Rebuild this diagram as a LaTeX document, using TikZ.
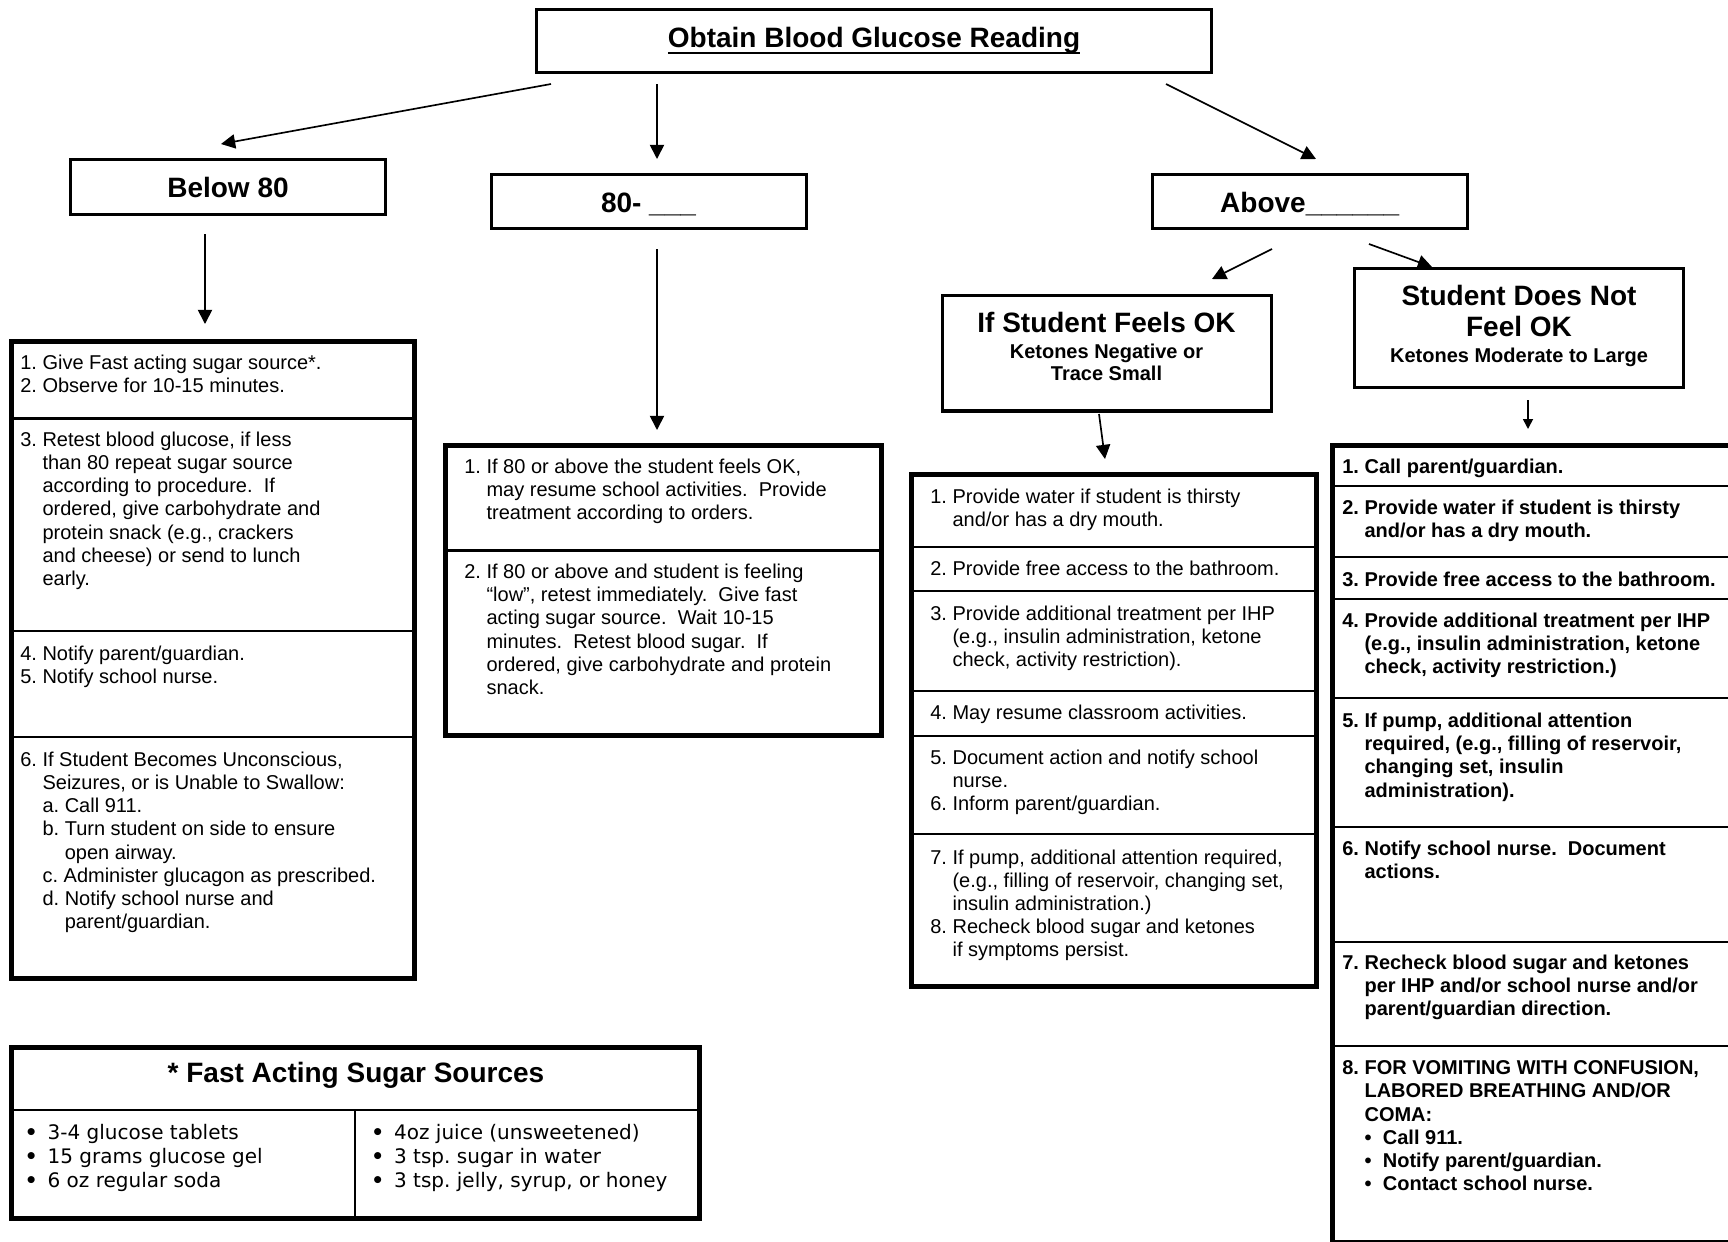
\documentclass[tikz,border=0pt]{standalone}
\usepackage{fontspec}
\setmainfont{Liberation Sans}
\newfontfamily\verd{DejaVu Sans}
\usetikzlibrary{arrows.meta}
\newcommand\ulrule[1]{\setbox0=\hbox{#1}\rlap{\rule[-4.2pt]{\wd0}{1.2pt}}\box0}
\newcommand\indA{\hphantom{1. }}
\newcommand\indB{\hphantom{1. a. }}
\newcommand\blt{\makebox[11pt][l]{•}}
\newcommand\vblt{\makebox[13.7pt][l]{\bfseries •}}
\begin{document}
\frenchspacing
\begin{tikzpicture}[x=0.6pt,y=-0.6pt,
 body/.style={font=\fontsize{12}{13.9}\selectfont, align=left, anchor=north west, inner sep=0pt},
 bodyb/.style={body, font=\fontsize{12}{13.9}\selectfont\bfseries},
 head/.style={font=\fontsize{16.8}{19.3}\selectfont\bfseries, inner sep=0pt, anchor=base},
 subh/.style={font=\fontsize{12}{13.9}\selectfont\bfseries, inner sep=0pt, anchor=base},
 hbox/.style 2 args={draw, line width=1.8pt, minimum width=#1, minimum height=#2, inner sep=0pt},
 sbox/.style={draw, line width=3pt},
 divl/.style={line width=1.3pt},
 arr/.style={line width=1pt, -{Triangle[length=8.5pt,width=8.5pt]}},
 arrs/.style={line width=1pt, -{Triangle[length=6pt,width=6pt]}},
 verdb/.style={font=\verd\fontsize{12}{14.5}\selectfont, align=left, anchor=north west, inner sep=0pt}
]
\useasboundingbox (0,0) rectangle (1728,1241);
\fill[white] (0,0) rectangle (1728,1241);
\clip (0,0) rectangle (1728,1241);

% ---------- header boxes ----------
\node[hbox={405pt}{37.6pt}] (top) at (874,41.2) {};
\node[head] (topT) at (874,47) {\ulrule{Obtain Blood Glucose Reading}};
\node[hbox={188.7pt}{33pt}] (below) at (227.8,187) {};
\node[head] (belowT) at (228,197) {Below 80};
\node[hbox={189pt}{32.4pt}] (mid) at (648.8,201.5) {};
\node[head] (midT) at (648.5,212.5) {80- \_\_\_};
\node[hbox={189pt}{32.4pt}] (above) at (1309.5,201.7) {};
\node[head] (aboveT) at (1309.7,212.5) {Above\_\_\_\_\_\_};

\node[hbox={197.4pt}{69.3pt}, line width=2pt] (feels) at (1107,353.2) {};
\node[head] (feelsT) at (1106.5,332.7) {If Student Feels OK};
\node[subh] (feelsS1) at (1106.5,358.5) {Ketones Negative or};
\node[subh] (feelsS2) at (1106.5,380) {Trace Small};

\node[hbox={197.4pt}{71.6pt}, line width=2pt] (notok) at (1519,327.9) {};
\node[head] (notokT1) at (1519,305) {Student Does Not};
\node[head] (notokT2) at (1519,336.7) {Feel OK};
\node[subh] (notokS) at (1519,362.7) {Ketones Moderate to Large};

% ---------- arrows ----------
\coordinate (a1s) at (551,84);   \coordinate (a1e) at (221,144);
\coordinate (a2s) at (657,84);   \coordinate (a2e) at (657,159);
\coordinate (a3s) at (1166,84);  \coordinate (a3e) at (1316,159);
\coordinate (a4s) at (205,234);  \coordinate (a4e) at (205,324);
\coordinate (a5s) at (657,249);  \coordinate (a5e) at (657,430);
\coordinate (a6s) at (1272,249); \coordinate (a6e) at (1212,279);
\coordinate (a7s) at (1369,244); \coordinate (a7e) at (1432,267);
\coordinate (a8s) at (1099,414); \coordinate (a8e) at (1105,459);
\coordinate (a9s) at (1528,400); \coordinate (a9e) at (1528,429);
\draw[arr] (a1s) -- (a1e);
\draw[arr] (a2s) -- (a2e);
\draw[arr] (a3s) -- (a3e);
\draw[arr] (a4s) -- (a4e);
\draw[arr] (a5s) -- (a5e);
\draw[arr] (a6s) -- (a6e);
\draw[arr] (a7s) -- (a7e);
\draw[arr] (a8s) -- (a8e);
\draw[arrs] (a9s) -- (a9e);

% ---------- left steps box ----------
\draw[sbox] (11.5,341) rectangle (414.5,978.5);
\draw[divl] (11.5,418.5) -- (414.5,418.5);
\draw[divl] (11.5,631.3) -- (414.5,631.3);
\draw[divl] (11.5,737.4) -- (414.5,737.4);
\node[body] (l1) at (20,352.8) {\strut 1. Give Fast acting sugar source*.\\2. Observe for 10-15 minutes.};
\node[body] (l2) at (20,429.8) {\strut 3. Retest blood glucose, if less\\\indA than 80 repeat sugar source\\\indA according to procedure.\ \ If\\\indA ordered, give carbohydrate and\\\indA protein snack (e.g., crackers\\\indA and cheese) or send to lunch\\\indA early.};
\node[body] (l3) at (20,643.8) {\strut 4. Notify parent/guardian.\\5. Notify school nurse.};
\node[body] (l4) at (20,749.8) {\strut 6. If Student Becomes Unconscious,\\\indA Seizures, or is Unable to Swallow:\\\indA a. Call 911.\\\indA b. Turn student on side to ensure\\\indB open airway.\\\indA c. Administer glucagon as prescribed.\\\indA d. Notify school nurse and\\\indB parent/guardian.};

% ---------- middle steps box ----------
\draw[sbox] (445.5,445.5) rectangle (881.5,735.5);
\draw[divl] (445.5,550.5) -- (881.5,550.5);
\node[body] (m1) at (464,456.5) {\strut 1. If 80 or above the student feels OK,\\\indA may resume school activities.\ \ Provide\\\indA treatment according to orders.};
\node[body] (m2) at (464,562.1) {\strut 2. If 80 or above and student is feeling\\\indA “low”, retest immediately.\ \ Give fast\\\indA acting sugar source.\ \ Wait 10-15\\\indA minutes.\ \ Retest blood sugar.\ \ If\\\indA ordered, give carbohydrate and protein\\\indA snack.};

% ---------- feels OK steps box ----------
\draw[sbox] (911.5,474.5) rectangle (1316.5,986.5);
\foreach \yy in {546.6,591.4,690.8,735.6,834.4}
  \draw[divl] (911.5,\yy) -- (1316.5,\yy);
\node[body] (f1) at (930,486.8) {\strut 1. Provide water if student is thirsty\\\indA and/or has a dry mouth.};
\node[body] (f2) at (930,559.1) {\strut 2. Provide free access to the bathroom.};
\node[body] (f3) at (930,603.8) {\strut 3. Provide additional treatment per IHP\\\indA (e.g., insulin administration, ketone\\\indA check, activity restriction).};
\node[body] (f4) at (930,703.4) {\strut 4. May resume classroom activities.};
\node[body] (f5) at (930,748.1) {\strut 5. Document action and notify school\\\indA nurse.\\6. Inform parent/guardian.};
\node[body] (f6) at (930,847.6) {\strut 7. If pump, additional attention required,\\\indA (e.g., filling of reservoir, changing set,\\\indA insulin administration.)\\8. Recheck blood sugar and ketones\\\indA if symptoms persist.};

% ---------- does not feel OK steps box ----------
\draw[sbox] (1332.5,445) rectangle (1745,1242);
\foreach \yy in {486,557,599,698,827,942,1046}
  \draw[divl] (1332.5,\yy) -- (1745,\yy);
\node[bodyb] (r1) at (1342,457.1) {\strut 1. Call parent/guardian.};
\node[bodyb] (r2) at (1342,498.1) {\strut 2. Provide water if student is thirsty\\\indA and/or has a dry mouth.};
\node[bodyb] (r3) at (1342,569.8) {\strut 3. Provide free access to the bathroom.};
\node[bodyb] (r4) at (1342,611.1) {\strut 4. Provide additional treatment per IHP\\\indA (e.g., insulin administration, ketone\\\indA check, activity restriction.)};
\node[bodyb] (r5) at (1342,711.1) {\strut 5. If pump, additional attention\\\indA required, (e.g., filling of reservoir,\\\indA changing set, insulin\\\indA administration).};
\node[bodyb] (r6) at (1342,838.8) {\strut 6. Notify school nurse.\ \ Document\\\indA actions.};
\node[bodyb] (r7) at (1342,953.1) {\strut 7. Recheck blood sugar and ketones\\\indA per IHP and/or school nurse and/or\\\indA parent/guardian direction.};
\node[bodyb] (r8) at (1342,1058.1) {\strut 8. FOR VOMITING WITH CONFUSION,\\\indA LABORED BREATHING AND/OR\\\indA COMA:\\\indA\blt Call 911.\\\indA\blt Notify parent/guardian.\\\indA\blt Contact school nurse.};

% ---------- fast acting sugar sources ----------
\draw[sbox] (11.5,1047.5) rectangle (699.5,1218.5);
\draw[divl] (11.5,1110) -- (699.5,1110);
\draw[divl] (355,1110) -- (355,1218.5);
\node[head] (sugT) at (356,1082) {* Fast Acting Sugar Sources};
\node[verdb] (s1) at (24.5,1122) {\strut\vblt 3-4 glucose tablets\\\vblt 15 grams glucose gel\\\vblt 6 oz regular soda};
\node[verdb] (s2) at (371,1122) {\strut\vblt 4oz juice (unsweetened)\\\vblt 3 tsp. sugar in water\\\vblt 3 tsp. jelly, syrup, or honey};
\end{tikzpicture}
\end{document}
